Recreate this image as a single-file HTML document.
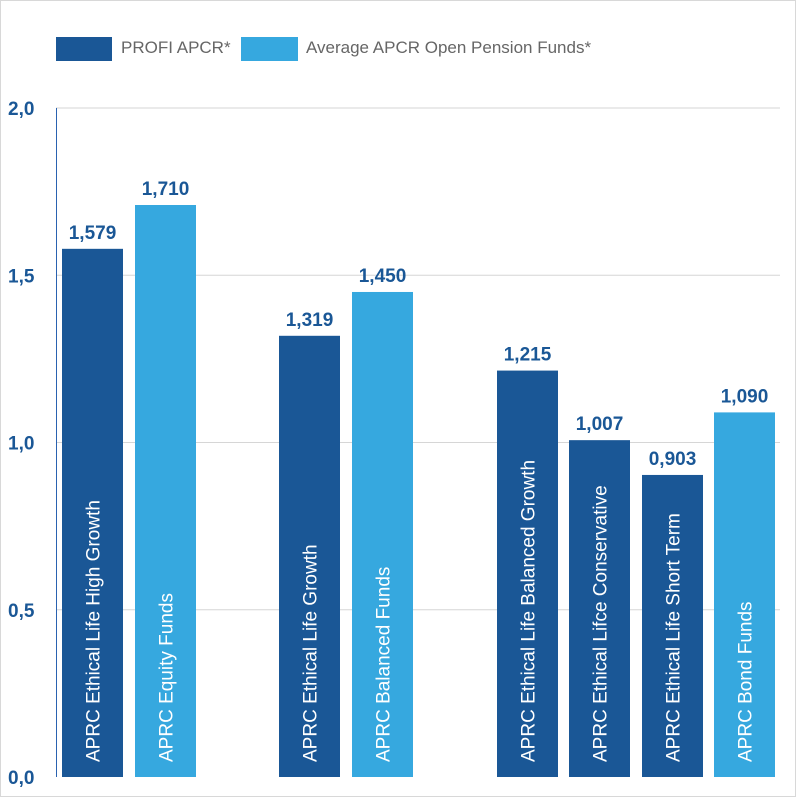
<!DOCTYPE html>
<html><head><meta charset="utf-8"><style>
html,body{margin:0;padding:0;background:#fff}
body{width:796px;height:797px;overflow:hidden;position:relative;font-family:"Liberation Sans Narrow","Liberation Sans",sans-serif}
.frame{position:absolute;left:0;top:0;width:794px;height:795px;border:1px solid #d8d8d8}
.leg{position:absolute;top:37px;height:24px}
.legt{position:absolute;top:38px;font-size:17px;color:#666}
</style></head><body>
<div class="frame"></div>
<div class="leg" style="left:56px;width:56px;background:#1a5796"></div>
<div class="legt" style="left:121px">PROFI APCR*</div>
<div class="leg" style="left:241px;width:57px;background:#36a8df"></div>
<div class="legt" style="left:306px">Average APCR Open Pension Funds*</div>
<svg id="chart" width="796" height="797" style="position:absolute;left:0;top:0"></svg>
<script>
const categories=["APRC Ethical Life High Growth","APRC Equity Funds","APRC Ethical Life Growth","APRC Balanced Funds","APRC Ethical Life Balanced Growth","APRC Ethical Lifce Conservative","APRC Ethical Life Short Term","APRC Bond Funds"];
const values=[1.579,1.710,1.319,1.450,1.215,1.007,0.903,1.090];
const series=["profi","avg","profi","avg","profi","profi","profi","avg"];
const valueLabels=["1,579","1,710","1,319","1,450","1,215","1,007","0,903","1,090"];
const ticks=[0,0.5,1.0,1.5,2.0];
const tickLabels=["0,0","0,5","1,0","1,5","2,0"];
const barX=[62,135,279,352,497,569,642,714];
const svg=document.getElementById('chart');
const NS='http://www.w3.org/2000/svg';
const y0=777,y2=108;
function y(v){return y0-(v/2)*(y0-y2);}
function mk(t,a){const e=document.createElementNS(NS,t);for(const k in a)e.setAttribute(k,a[k]);svg.appendChild(e);return e;}
ticks.forEach((t,i)=>{
  if(t>0){const g=mk('line',{x1:56,x2:780,y1:y(t),y2:y(t),stroke:'#d6d6d6','stroke-width':1});
  
  }
  const l=mk('text',{x:8,y:y(t)+7,'font-size':19,'font-weight':'bold',fill:'#1a5796','font-family':'Liberation Sans Narrow, Liberation Sans, sans-serif'});
  l.textContent=tickLabels[i];
  
  
});
const ax=mk('line',{x1:56.5,x2:56.5,y1:y2,y2:y0,stroke:'#2a62b0','stroke-width':1});


const bw=61;
values.forEach((v,i)=>{
  const x=barX[i];
  const r=mk('rect',{x:x,y:y(v),width:bw,height:y0-y(v),fill:series[i]==='profi'?'#1a5796':'#36a8df'});
  
  
  const vl=mk('text',{x:x+bw/2,y:y(v)-10,'text-anchor':'middle','font-size':19,'font-weight':'bold',fill:'#1a5796','font-family':'Liberation Sans Narrow, Liberation Sans, sans-serif'});
  vl.textContent=valueLabels[i];
  
  
  const cx=x+bw/2+7, cy=762;
  const cl=mk('text',{x:cx,y:cy,transform:'rotate(-90 '+cx+' '+cy+')','font-size':19,fill:'#fff','font-family':'Liberation Sans Narrow, Liberation Sans, sans-serif'});
  cl.textContent=categories[i];
  
  
});
</script>
</body></html>
